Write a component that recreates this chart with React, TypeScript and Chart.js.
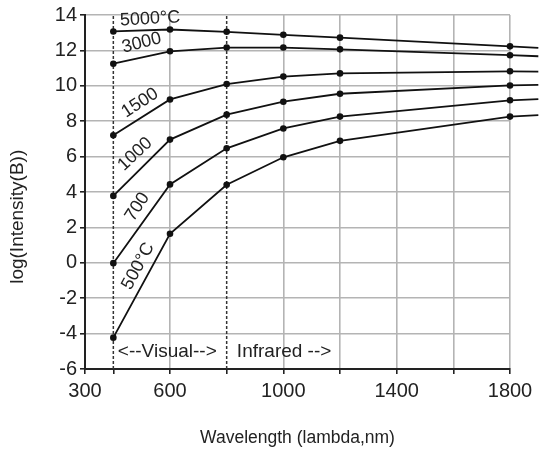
import React, { useEffect, useRef } from "react";
import { Chart, registerables } from "chart.js";

Chart.register(...registerables);

// ---- data ----
const wavelengths = [400, 600, 800, 1000, 1200, 1800, 1900];
const temperatureLabels = ["5000°C", "3000", "1500", "1000", "700", "500°C"];
const t5000 = [13.07, 13.18, 13.05, 12.88, 12.72, 12.23, 12.14];
const t3000 = [11.25, 11.95, 12.16, 12.16, 12.06, 11.73, 11.67];
const t1500 = [7.2, 9.23, 10.1, 10.52, 10.7, 10.82, 10.8];
const t1000 = [3.78, 6.96, 8.37, 9.1, 9.55, 10.02, 10.05];
const t700 = [-0.02, 4.43, 6.47, 7.59, 8.26, 9.18, 9.25];
const t500 = [-4.23, 1.64, 4.41, 5.96, 6.89, 8.26, 8.34];
const seriesValues = [t5000, t3000, t1500, t1000, t700, t500];

const xTickValues = [300, 400, 600, 800, 1000, 1200, 1400, 1600, 1800];
const xTickLabels = [300, 600, 1000, 1400, 1800];
const regionBounds = [400, 800];
const regionLabels = ["<--Visual-->", "Infrared -->"];
const yTitle = "log(Intensity(B))";

const FONT = '"Liberation Sans", Arial, Helvetica, sans-serif';
const TEXT = "#222";
const LINE = "#111";

// label anchors (data units) for the curve captions
const curveLabelAnchors = [
  { x: 530, y: 13.78, angle: -3 },
  { x: 500, y: 12.42, angle: -14 },
  { x: 494, y: 9.03, angle: -33 },
  { x: 477, y: 6.14, angle: -43 },
  { x: 485, y: 3.16, angle: -57 },
  { x: 488, y: -0.19, angle: -62 },
];

const captionPlugin = {
  id: "captions",
  afterDatasetsDraw(chart: any) {
    const { ctx, scales } = chart;
    const xs = scales.x;
    const ys = scales.y;
    ctx.save();

    // continuation of each curve past the last grid column
    ctx.strokeStyle = LINE;
    ctx.lineWidth = 1.8;
    seriesValues.forEach((vals) => {
      for (let j = 1; j < wavelengths.length; j++) {
        if (wavelengths[j] > xs.max) {
          ctx.beginPath();
          ctx.moveTo(xs.getPixelForValue(wavelengths[j - 1]), ys.getPixelForValue(vals[j - 1]));
          ctx.lineTo(xs.getPixelForValue(wavelengths[j]), ys.getPixelForValue(vals[j]));
          ctx.stroke();
        }
      }
    });

    ctx.fillStyle = TEXT;
    ctx.font = `18px ${FONT}`;
    ctx.textAlign = "center";
    ctx.textBaseline = "middle";
    curveLabelAnchors.forEach((a, i) => {
      ctx.save();
      ctx.translate(xs.getPixelForValue(a.x), ys.getPixelForValue(a.y));
      ctx.rotate((a.angle * Math.PI) / 180);
      ctx.fillText(temperatureLabels[i], 0, 0);
      ctx.restore();
    });

    ctx.font = `19px ${FONT}`;
    ctx.textAlign = "left";
    ctx.fillText(regionLabels[0], xs.getPixelForValue(416), ys.getPixelForValue(-5.0));
    ctx.fillText(regionLabels[1], xs.getPixelForValue(836), ys.getPixelForValue(-5.0));

    // y axis title
    ctx.save();
    ctx.font = `19px ${FONT}`;
    ctx.textAlign = "center";
    ctx.translate(18, ys.getPixelForValue(2.6));
    ctx.rotate(-Math.PI / 2);
    ctx.fillText(yTitle, 0, 0);
    ctx.restore();

    ctx.restore();
  },
};

export default function App() {
  const ref = useRef<HTMLCanvasElement | null>(null);

  useEffect(() => {
    document.body.style.margin = "0";
    const canvas = ref.current;
    if (!canvas) return;

    const curveSets = seriesValues.map((vals, i) => ({
      label: temperatureLabels[i],
      data: wavelengths.map((w, j) => ({ x: w, y: vals[j] })),
      borderColor: LINE,
      backgroundColor: LINE,
      borderWidth: 1.8,
      pointRadius: (c: any) => (c.raw && c.raw.x > 1800 ? 0 : 3.3),
      pointHoverRadius: 3.3,
      pointBorderWidth: 0,
      tension: 0,
      clip: 8,
      order: 1,
    }));

    const boundSets = regionBounds.map((b) => ({
      label: "bound" + b,
      data: [
        { x: b, y: -6 },
        { x: b, y: 14 },
      ],
      borderColor: "#333",
      borderWidth: 1.5,
      borderDash: [3, 2],
      pointRadius: 0,
      order: 2,
    }));

    const chart = new Chart(canvas, {
      type: "line",
      data: { datasets: [...curveSets, ...boundSets] as any },
      options: {
        animation: false,
        responsive: false,
        devicePixelRatio: 1,
        layout: { padding: { top: 11, right: 39, left: 0, bottom: 0 } },
        plugins: {
          legend: { display: false },
          tooltip: { enabled: false },
        },
        scales: {
          x: {
            type: "linear",
            min: 300,
            max: 1800,
            afterBuildTicks: (axis: any) => {
              axis.ticks = xTickValues.map((v) => ({ value: v }));
            },
            afterFit: (scale: any) => {
              scale.height = 80;
            },
            ticks: {
              autoSkip: false,
              maxRotation: 0,
              padding: 5,
              color: TEXT,
              font: { family: FONT, size: 20 },
              callback: (v: any) => (xTickLabels.includes(Number(v)) ? String(v) : ""),
            },
            grid: {
              color: (c: any) =>
                c.tick && regionBounds.includes(c.tick.value) ? "rgba(0,0,0,0)" : "#b4b4b4",
              lineWidth: 1.6,
              tickColor: "#222",
              tickLength: 5,
            },
            border: { display: true, color: "#222", width: 2 },
            title: {
              display: true,
              text: "Wavelength (lambda,nm)",
              color: TEXT,
              font: { family: FONT, size: 17.5 },
              padding: { top: 0, bottom: 0 },
            },
          },
          y: {
            type: "linear",
            min: -6,
            max: 14,
            afterFit: (scale: any) => {
              scale.width = 85;
            },
            ticks: {
              stepSize: 2,
              padding: 3,
              color: TEXT,
              font: { family: FONT, size: 20 },
            },
            grid: {
              color: "#b4b4b4",
              lineWidth: 1.6,
              tickColor: "#222",
              tickLength: 5,
            },
            border: { display: true, color: "#222", width: 2 },
          },
        },
      },
      plugins: [captionPlugin],
    });

    return () => chart.destroy();
  }, []);

  return (
    <div style={{ width: 549, height: 449, background: "#fff" }}>
      <canvas ref={ref} width={549} height={449} style={{ display: "block" }} />
    </div>
  );
}
